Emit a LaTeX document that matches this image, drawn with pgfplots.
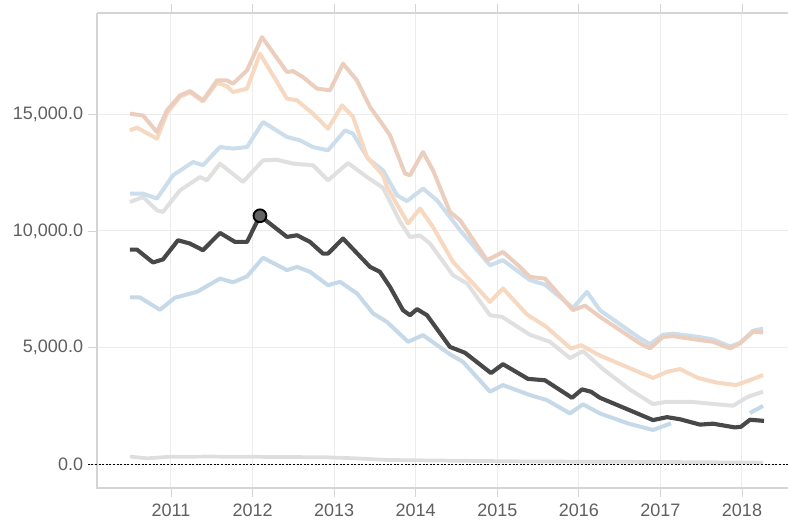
\documentclass[border=0pt]{standalone}
\usepackage{pgfplots}
\pgfplotsset{compat=1.18}
\usepackage{fontspec}
\setmainfont{Liberation Sans}
\definecolor{peachA}{RGB}{236,206,190}
\definecolor{peachB}{RGB}{247,216,192}
\definecolor{blueA}{RGB}{204,221,236}
\definecolor{blueB}{RGB}{198,217,233}
\definecolor{grayA}{RGB}{224,224,224}
\definecolor{grayB}{RGB}{222,222,222}
\definecolor{darkL}{RGB}{72,72,72}
\definecolor{gridc}{RGB}{236,236,236}
\definecolor{framec}{RGB}{212,212,212}
\definecolor{labc}{RGB}{95,95,95}
\begin{document}
\begin{tikzpicture}
\useasboundingbox (-72.75pt,-24pt) rectangle (518.25pt,366pt);
\begin{axis}[
  at={(0,0)}, anchor=south west,
  scale only axis, width=518.25pt, height=356.25pt,
  xmin=2010.093, xmax=2018.564,
  ymin=-1016, ymax=19341,
  scaled x ticks=false, scaled y ticks=false,
  axis line style={draw=none},
  xtick={2011,2012,2013,2014,2015,2016,2017,2018},
  xticklabels={2011,2012,2013,2014,2015,2016,2017,2018},
  ytick={0,5000,10000,15000},
  yticklabels={{0.0},{5,000.0},{10,000.0},{15,000.0}},
  /pgf/number format/assume math mode=true,
  tick align=outside,
  major tick length=6.5pt,
  tick style={draw=framec, line width=0.6pt},
  xmajorgrids, ymajorgrids,
  major grid style={draw=gridc, line width=0.75pt},
  xticklabel style={anchor=north, inner sep=0pt, yshift=-5.5pt, font=\fontsize{13.5}{14}\selectfont, text=labc},
  yticklabel style={anchor=east, inner sep=0pt, xshift=-3.8pt, font=\fontsize{13.5}{14}\selectfont, text=labc},
  clip=false,
]
\draw[framec, line width=0.9pt] (rel axis cs:0,1) -- (rel axis cs:0,0) -- (rel axis cs:1,0);
\draw[framec, line width=0.9pt] (rel axis cs:0,1) -- (rel axis cs:1,1);

% near-zero gray
\addplot[grayB, line width=2.8pt] coordinates {
(2010.497,330) (2010.706,255) (2010.988,325) (2011.5,330) (2012.005,320) (2012.5,310) (2012.906,300)
(2013.3,250) (2013.648,185) (2014.3,160) (2015.401,120) (2016.2,110) (2016.957,100) (2017.6,85) (2018.258,70)};

% zero line
\addplot[black, line width=0.6pt, dash pattern=on 1.5pt off 1.2pt] coordinates {(2009.98,0) (2018.564,0)};

% light gray upper
\addplot[grayA, line width=3pt, line join=round] coordinates {
(2010.497,11240) (2010.657,11455) (2010.828,10885) (2010.902,10815) (2011.110,11740) (2011.355,12310)
(2011.441,12170) (2011.601,12885) (2011.883,12100) (2012.128,13025) (2012.294,13055) (2012.496,12885)
(2012.741,12815) (2012.925,12170) (2013.170,12910) (2013.403,12310) (2013.599,11850) (2013.808,10400)
(2013.930,9745) (2014.053,9800) (2014.175,9460) (2014.457,8105) (2014.629,7750) (2014.911,6390)
(2015.058,6320) (2015.401,5550) (2015.646,5250) (2015.891,4550) (2016.051,4850) (2016.296,4080)
(2016.627,3200) (2016.909,2580) (2017.081,2680) (2017.363,2680) (2017.608,2600) (2017.890,2510)
(2018.074,2895) (2018.258,3110)};

% light blue upper
\addplot[blueA, line width=3pt, line join=round] coordinates {
(2010.497,11600) (2010.657,11600) (2010.828,11390) (2011.025,12385) (2011.270,12955) (2011.392,12815)
(2011.601,13595) (2011.760,13530) (2011.932,13595) (2012.128,14670) (2012.422,14025) (2012.581,13885)
(2012.741,13595) (2012.925,13455) (2013.133,14310) (2013.231,14170) (2013.415,13100) (2013.599,12600)
(2013.771,11530) (2013.893,11280) (2014.089,11815) (2014.261,11315) (2014.543,10035) (2014.911,8530)
(2015.070,8745) (2015.401,7890) (2015.585,7700) (2015.928,6700) (2016.100,7390) (2016.259,6600)
(2016.749,5400) (2016.872,5150) (2017.032,5550) (2017.154,5600) (2017.485,5450) (2017.645,5350)
(2017.853,5050) (2017.975,5200) (2018.135,5720) (2018.258,5820)};

% peach second
\addplot[peachB, line width=3pt, line join=round] coordinates {
(2010.497,14310) (2010.583,14425) (2010.828,13955) (2010.951,15050) (2011.110,15750) (2011.233,15950)
(2011.392,15550) (2011.564,16350) (2011.687,16200) (2011.760,15950) (2011.932,16100) (2012.091,17595)
(2012.422,15670) (2012.545,15600) (2012.741,15025) (2012.925,14385) (2013.097,15380) (2013.231,14900)
(2013.403,13170) (2013.599,12385) (2013.648,11885) (2013.906,10320) (2014.053,10960) (2014.212,10170)
(2014.457,8675) (2014.666,7890) (2014.911,6960) (2015.070,7535) (2015.364,6420) (2015.597,5900)
(2015.904,4960) (2016.027,5105) (2016.235,4700) (2016.554,4220) (2016.909,3700) (2017.081,3965)
(2017.240,4080) (2017.461,3700) (2017.694,3500) (2017.927,3395) (2018.098,3610) (2018.258,3825)};

% peach top
\addplot[peachA, line width=3pt, line join=round] coordinates {
(2010.497,15026) (2010.657,14950) (2010.828,14240) (2010.951,15170) (2011.110,15810) (2011.233,15995)
(2011.392,15595) (2011.564,16450) (2011.687,16450) (2011.760,16310) (2011.932,16880) (2012.116,18305)
(2012.422,16810) (2012.496,16850) (2012.618,16595) (2012.790,16100) (2012.949,16025) (2013.109,17170)
(2013.280,16450) (2013.440,15310) (2013.587,14600) (2013.685,14100) (2013.869,12460) (2013.930,12385)
(2014.089,13380) (2014.212,12600) (2014.420,10815) (2014.543,10460) (2014.874,8745) (2015.070,9100)
(2015.278,8460) (2015.401,8030) (2015.585,7960) (2015.928,6605) (2016.075,6800) (2016.259,6320)
(2016.749,5180) (2016.872,4965) (2017.032,5460) (2017.154,5490) (2017.485,5320) (2017.645,5250)
(2017.853,4965) (2017.975,5180) (2018.135,5675) (2018.258,5650)};

% light blue lower
\addplot[blueB, line width=3pt, line join=round] coordinates {
(2010.497,7150) (2010.620,7150) (2010.865,6620) (2011.049,7140) (2011.319,7390) (2011.601,7960)
(2011.760,7800) (2011.932,8050) (2012.128,8850) (2012.422,8320) (2012.545,8460) (2012.704,8250)
(2012.925,7675) (2013.072,7820) (2013.281,7320) (2013.477,6465) (2013.648,6100) (2013.906,5250)
(2014.089,5535) (2014.420,4715) (2014.580,4390) (2014.911,3110) (2015.070,3395) (2015.401,2965)
(2015.609,2750) (2015.891,2180) (2016.051,2570) (2016.259,2180) (2016.603,1750) (2016.909,1470)
(2017.130,1755)};
\addplot[blueB, line width=3pt] coordinates {(2018.098,2200) (2018.258,2500)};

% dark highlighted
\addplot[darkL, line width=3.1pt, line join=round] coordinates {
(2010.497,9200) (2010.583,9200) (2010.779,8650) (2010.902,8780) (2011.086,9600) (2011.233,9460)
(2011.392,9175) (2011.601,9915) (2011.785,9530) (2011.932,9530) (2012.091,10650) (2012.422,9745)
(2012.545,9815) (2012.704,9530) (2012.863,9030) (2012.925,9030) (2013.109,9675) (2013.440,8460)
(2013.562,8245) (2013.685,7600) (2013.844,6605) (2013.930,6390) (2014.016,6650) (2014.138,6390)
(2014.420,5030) (2014.604,4780) (2014.923,3910) (2015.070,4290) (2015.377,3660) (2015.585,3600)
(2015.916,2850) (2016.039,3210) (2016.149,3110) (2016.259,2850) (2016.566,2400) (2016.909,1895)
(2017.081,2020) (2017.240,1930) (2017.485,1700) (2017.645,1740) (2017.914,1580) (2017.988,1610)
(2018.098,1910) (2018.270,1860)};

\addplot[only marks, mark=*, mark size=4.8pt, mark options={fill=darkL!85!white, draw=black, line width=1.4pt}]
  coordinates {(2012.091,10650)};
\end{axis}
\end{tikzpicture}
\end{document}
